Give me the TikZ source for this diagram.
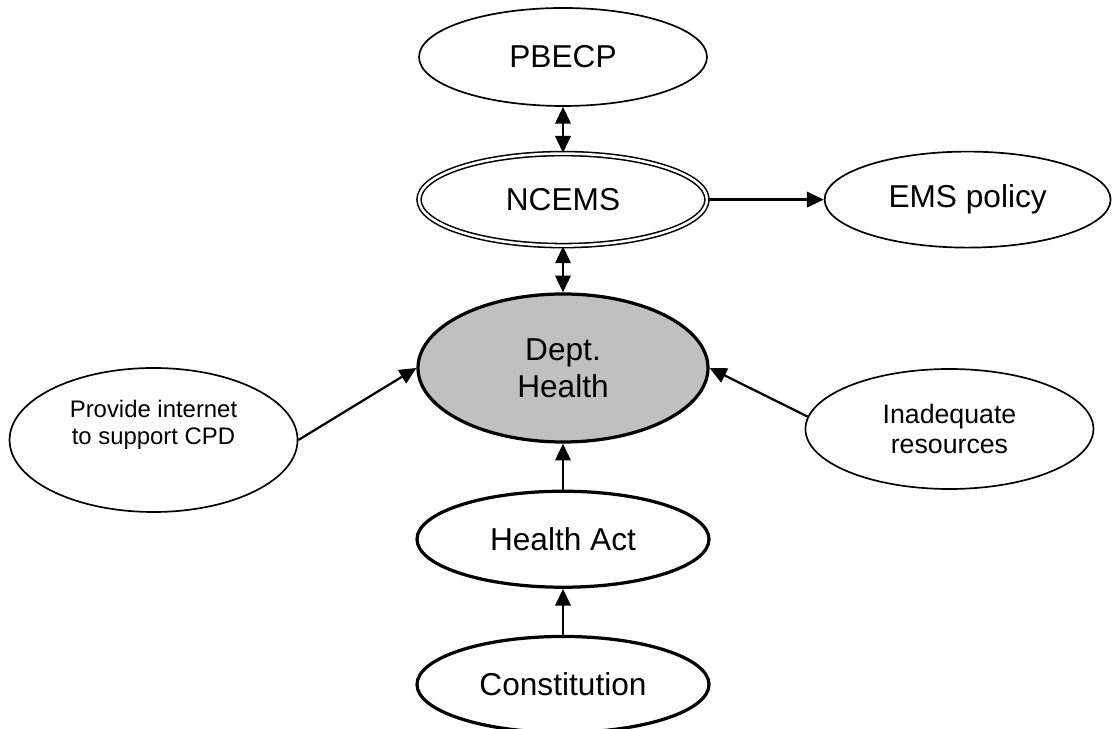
\documentclass[tikz,border=0pt]{standalone}
\usepackage{fontspec}
\setmainfont{Liberation Sans}
\usepackage{tikz}
\usetikzlibrary{positioning,shapes.geometric,arrows.meta}
\definecolor{deptgray}{RGB}{192,192,192}

\begin{document}
\begin{tikzpicture}[node distance=1.15cm]
                \tikzstyle{big} = [font=\fontsize{22.5}{26.3}\selectfont]
                \tikzstyle{small} = [font=\fontsize{17}{19.5}\selectfont]
                \tikzstyle{mid} = [font=\fontsize{19}{21.5}\selectfont]
                \tikzstyle{thinell} = [ellipse, draw=black, line width=1.2pt, inner sep=0pt, align=center, minimum width=7.2cm, minimum height=2.4cm]
                \tikzstyle{boldell} = [thinell, line width=2.3pt, minimum width=7.3cm]
                \tikzstyle{dblell} = [thinell, line width=1.1pt, double, double distance=1.8pt, minimum width=7.2cm, minimum height=2.3cm]
                \tikzstyle{arrow} = [line width=1.6pt, -{Triangle[length=12pt, width=11pt]}]
                \tikzstyle{darrow} = [line width=1.6pt, {Triangle[length=12pt, width=11pt]}-{Triangle[length=12pt, width=11pt]}]
                \useasboundingbox (-14.075,9.2) rectangle (13.75,-9.025);

                \node (dept) [boldell, big, fill=deptgray, minimum height=3.7cm, minimum width=7.25cm] {Dept.\\Health};
                \node (ncems) [dblell, big, above=of dept] {NCEMS};
                \node (pbecp) [thinell, big, above=of ncems, minimum height=2.45cm] {PBECP};
                \node (ems) [thinell, big, right=2.9cm of ncems, minimum width=7.15cm] {EMS policy};
                \node (provide) [thinell, small, left=2.95cm of dept, yshift=-1.8cm, minimum height=3.6cm] {Provide internet\\to support CPD\\[6pt]};
                \node (inad) [thinell, mid, right=2.375cm of dept, yshift=-1.525cm, minimum height=3cm] {Inadequate\\resources};
                \node (healthact) [boldell, big, below=of dept] {Health Act};
                \node (constitution) [boldell, big, below=of healthact] {Constitution};

                \draw [darrow] (pbecp) -- (ncems);
                \draw [darrow] (ncems) -- (dept);
                \draw [arrow] (ncems) -- (ems);
                \draw [arrow] (provide.east) -- (dept.west);
                \draw [arrow] (inad.175) -- (dept.east);
                \draw [arrow] (healthact) -- (dept);
                \draw [arrow] (constitution) -- (healthact);
            \end{tikzpicture}
\end{document}
